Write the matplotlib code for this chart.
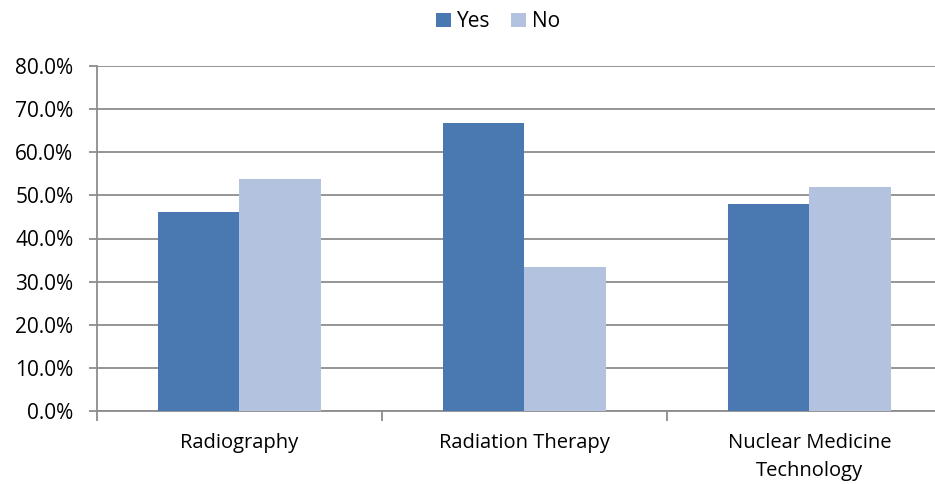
import numpy as np
import matplotlib.pyplot as plt
from matplotlib.ticker import PercentFormatter

categories = ["Radiography", "Radiation Therapy", "Nuclear Medicine\nTechnology"]
yes_values = [46.2, 66.7, 48.0]
no_values = [53.8, 33.3, 52.0]
series_names = ["Yes", "No"]

YES_COLOR = "#4A78B0"
NO_COLOR = "#B3C3DF"
GRID_COLOR = "#8C8C8C"

plt.rcParams['font.family'] = ['Open Sans', 'DejaVu Sans']

fig = plt.figure(figsize=(9.35, 4.84), dpi=100)
# plot area runs past the right edge of the image, as in the reference
ax = fig.add_axes([97 / 935, 1 - 411 / 484, 855 / 935, 345 / 484])

x = np.arange(len(categories))
width = 1 / 3.5
ax.bar(x - width / 2, yes_values, width, color=YES_COLOR, label=series_names[0], zorder=3)
ax.bar(x + width / 2, no_values, width, color=NO_COLOR, label=series_names[1], zorder=3)

ax.set_xlim(-0.5, len(categories) - 0.5)
ax.set_ylim(0, 80)
ax.set_yticks(np.arange(0, 81, 10))
ax.yaxis.set_major_formatter(PercentFormatter(decimals=1))
ax.yaxis.grid(True, color=GRID_COLOR, linewidth=1.3, zorder=0)

ax.set_xticks(x)
ax.set_xticklabels(categories, fontsize=14.5, linespacing=1.5)
ax.set_xticks(np.arange(-0.5, len(categories) + 0.5, 1), minor=True)
ax.tick_params(axis="x", which="major", length=0, pad=16)
ax.tick_params(axis="x", which="minor", length=7, color=GRID_COLOR, width=1.3)
ax.tick_params(axis="y", length=6, color=GRID_COLOR, width=1.3, labelsize=15, pad=11)

for side in ["top", "right"]:
    ax.spines[side].set_visible(False)
for side in ["left", "bottom"]:
    ax.spines[side].set_color(GRID_COLOR)
    ax.spines[side].set_linewidth(1.3)

fig.legend(loc="upper center", bbox_to_anchor=(498 / 935, 1.015), ncol=2, frameon=False,
           fontsize=15, handlelength=0.7, handleheight=0.7, handletextpad=0.3,
           columnspacing=1.0)

fig.savefig("out.png", dpi=100)
